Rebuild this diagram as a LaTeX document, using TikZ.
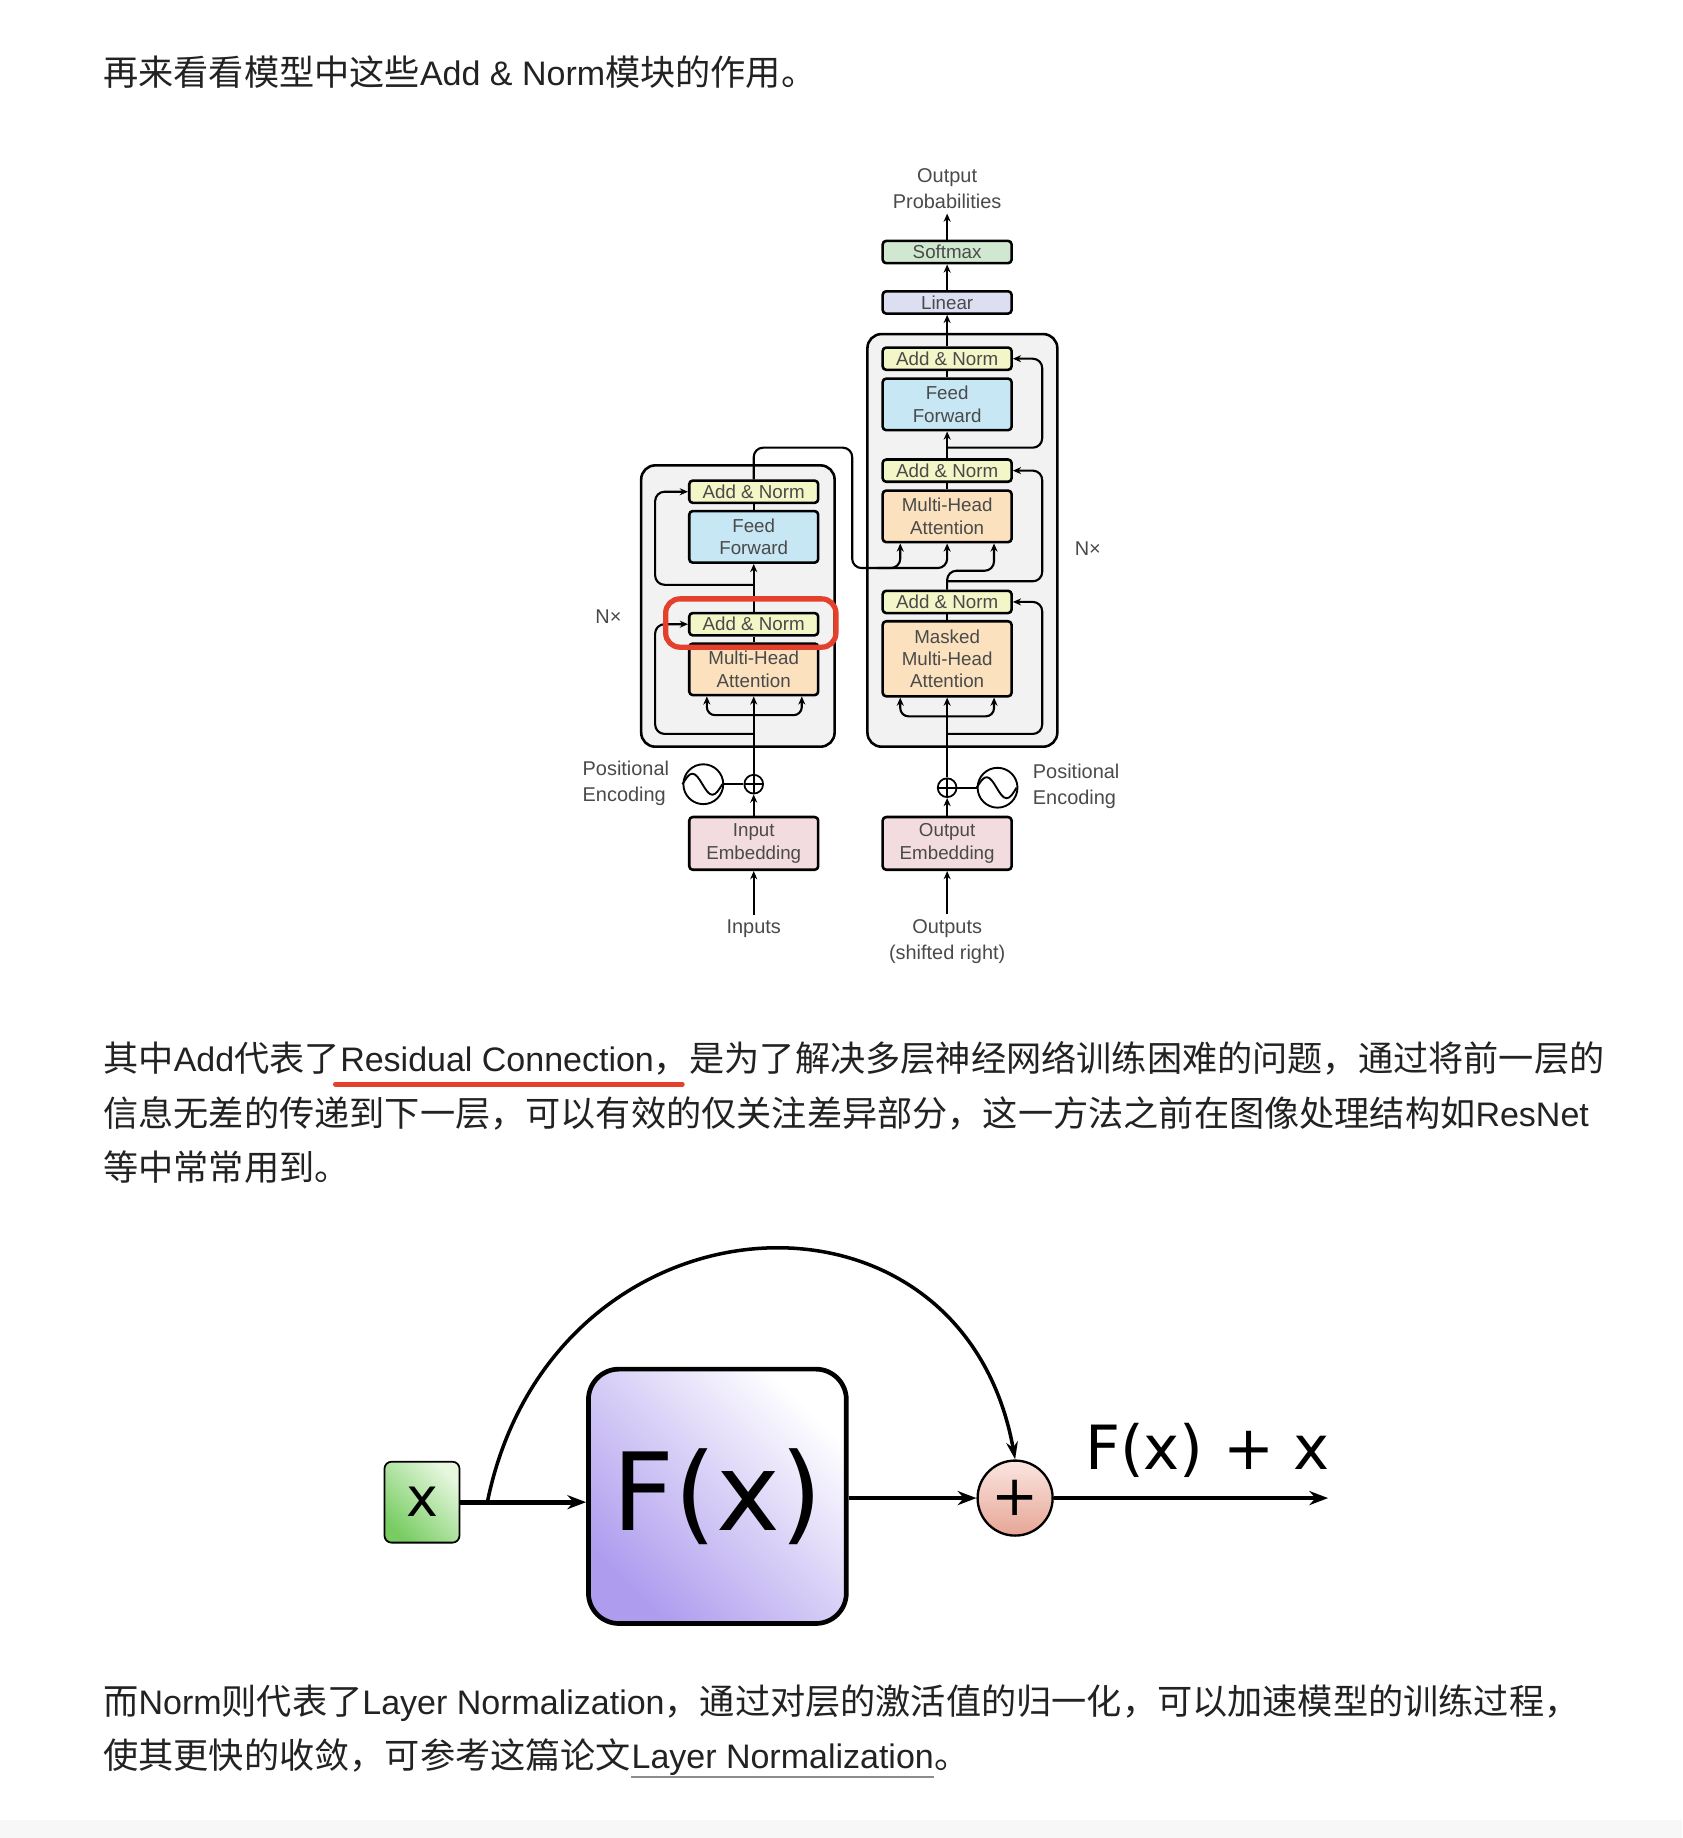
\documentclass[tikz,border=0pt]{standalone}
\usepackage{fontspec}
\setmainfont{Liberation Sans}
\newfontfamily\cjkfont[Scale=1.035]{Noto Sans CJK SC}
\newfontfamily\diagfont{Liberation Sans}
\newfontfamily\resfont{DejaVu Sans}
\usetikzlibrary{positioning,calc,arrows.meta}

\XeTeXinterchartokenstate=1
\newXeTeXintercharclass\cjkcls
\newcount\cjkcnt
\cjkcnt="3000
\loop \XeTeXcharclass\cjkcnt=\cjkcls \ifnum\cjkcnt<"303F \advance\cjkcnt by 1 \repeat
\cjkcnt="4E00
\loop \XeTeXcharclass\cjkcnt=\cjkcls \ifnum\cjkcnt<"9FFF \advance\cjkcnt by 1 \repeat
\cjkcnt="FF00
\loop \XeTeXcharclass\cjkcnt=\cjkcls \ifnum\cjkcnt<"FFEF \advance\cjkcnt by 1 \repeat
\XeTeXinterchartoks 0 \cjkcls = {\cjkfont}
\XeTeXinterchartoks 4095 \cjkcls = {\cjkfont}
\XeTeXinterchartoks \cjkcls 0 = {\rmfamily}

\definecolor{addnorm}{HTML}{F3F6C6}
\definecolor{ffwd}{HTML}{C7E7F5}
\definecolor{attn}{HTML}{FBE1BE}
\definecolor{embd}{HTML}{F3DCDF}
\definecolor{linc}{HTML}{DCDEF2}
\definecolor{smaxc}{HTML}{CFE8CF}
\definecolor{stackbg}{HTML}{F2F2F2}
\definecolor{hilite}{HTML}{E5402C}
\definecolor{txt}{HTML}{222222}
\definecolor{dtxt}{HTML}{4A4A4A}
\definecolor{xdark}{HTML}{78CC62}
\definecolor{xlight}{HTML}{E6F7DE}
\definecolor{fdark}{HTML}{AE9CEE}
\definecolor{sumtop}{HTML}{FBE6E0}
\definecolor{sumbot}{HTML}{E6A595}

\begin{document}
\begin{tikzpicture}
		[x=1pt, y=-1pt, line join=round,
		every node/.style={inner sep=0pt, text=dtxt, font=\diagfont\fontsize{16}{19}\selectfont},
		layer/.style={draw, line width=2.2pt, rounded corners=3pt, minimum width=110pt, align=center},
		an/.style={layer, fill=addnorm, minimum height=19pt},
		ff/.style={layer, fill=ffwd, minimum height=44pt},
		att/.style={layer, fill=attn, minimum height=44pt},
		emb/.style={layer, fill=embd, minimum height=45pt},
		lbl/.style={align=center, inner sep=4pt, font=\diagfont\fontsize{17}{22}\selectfont},
		flow/.style={line width=1.8pt, -{Stealth[length=7pt,width=6pt]}},
		fork/.style={line width=1.8pt, {Stealth[length=7pt,width=6pt]}-{Stealth[length=7pt,width=6pt]}},
		link/.style={line width=1.8pt},
		stack/.style={draw, fill=stackbg, line width=2.2pt, rounded corners=12pt},
		addop/.style={circle, draw, line width=1.5pt, minimum size=16pt,
			path picture={\draw[line width=1.5pt] (path picture bounding box.north) -- (path picture bounding box.south) (path picture bounding box.west) -- (path picture bounding box.east);}},
		wave/.style={circle, draw, line width=1.6pt, minimum size=34pt},
		para/.style={anchor=base west, text=txt, font=\rmfamily\fontsize{29}{29}\selectfont},
		xinbox/.style={draw, line width=1.5pt, rounded corners=6pt, minimum width=64pt, minimum height=69pt,
			bottom color=xdark, top color=xlight, shading angle=-45, text=black, font=\resfont\fontsize{46}{46}\selectfont},
		fxbox/.style={draw, line width=4pt, rounded corners=26pt, minimum width=220pt, minimum height=217pt,
			bottom color=fdark, top color=white, shading angle=-45, text=black, font=\resfont\fontsize{92}{92}\selectfont},
		sumop/.style={circle, draw, line width=2pt, minimum size=64pt, top color=sumtop, bottom color=sumbot,
			text=black, font=\resfont\fontsize{48}{48}\selectfont},
		resarrow/.style={line width=4pt, -{Stealth[length=16pt,width=12pt]}},
		skiparc/.style={line width=3pt, -{Stealth[length=15pt,width=10pt]}}]
		\fill[white] (0,0) rectangle (1435,1568);
		\useasboundingbox (0,0) rectangle (1435,1568);
		\fill[black!3] (0,1553) rectangle (1435,1568);

		\node[para] (t1) at (88,73) {再来看看模型中这些Add \& Norm模块的作用。};

		\draw[stack] (547,397) rectangle (712,637);
		\draw[stack] (740,285) rectangle (902,637);

		\node[emb] (emb1) at (643,719.5) {Input\\Embedding};
		\node[addop] (p1) at (643,669) {};
		\node[wave] (s1) at (600,669) {};
		\node[lbl, anchor=east, align=left] (pe1) at (575,668) {Positional\\Encoding};
		\node[lbl] (in) at (643,792) {Inputs};
		\node[att] (mha1) at (643,571) {Multi-Head\\Attention};
		\node[an] (an1) at (643,532.5) {Add \& Norm};
		\node[ff] (ff1) at (643,458) {Feed\\Forward};
		\node[an] (an2) at (643,419.5) {Add \& Norm};
		\node[lbl] (n1) at (519,526) {N×};

		\node[emb] (emb2) at (808,719.5) {Output\\Embedding};
		\node[addop] (p2) at (808,672) {};
		\node[wave] (s2) at (851,672) {};
		\node[lbl, anchor=west, align=left] (pe2) at (877,671) {Positional\\Encoding};
		\node[lbl] (out) at (808,803) {Outputs\\(shifted right)};
		\node[att, minimum height=64pt] (mmha) at (808,562) {Masked\\Multi-Head\\Attention};
		\node[an] (an3) at (808,513.5) {Add \& Norm};
		\node[att] (mha2) at (808,440.5) {Multi-Head\\Attention};
		\node[an] (an4) at (808,401.5) {Add \& Norm};
		\node[ff] (ff2) at (808,345) {Feed\\Forward};
		\node[an] (an5) at (808,306) {Add \& Norm};
		\node[an, fill=linc] (lin) at (808,258) {Linear};
		\node[an, fill=smaxc] (soft) at (808,215) {Softmax};
		\node[lbl] (prob) at (808,161) {Output\\Probabilities};
		\node[lbl] (n2) at (928,468) {N×};

		\draw[flow] (in) -- (emb1);
		\draw[flow] (emb1) -- (p1);
		\draw[flow] (p1) -- (mha1);
		\draw[link] (s1.east) -- (p1.west);
		\draw[line width=1.6pt] (s1.west) sin ++(8.5,-9) cos ++(8.5,9) sin ++(8.5,9) cos ++(8.5,-9);
		\draw[fork, rounded corners=7] ($(mha1.south)+(-40,0)$) |- ($(mha1.south)+(41,16)$) -- ($(mha1.south)+(41,0)$);
		\draw[flow, rounded corners=8] ($(mha1.south)+(0,32)$) -| ($(an1.west)+(-28,0)$) -- (an1.west);
		\draw[link] (mha1) -- (an1);
		\draw[flow] (an1) -- (ff1);
		\draw[flow, rounded corners=8] ($(an1.north)+(0,-23)$) -| ($(an2.west)+(-28,0)$) -- (an2.west);
		\draw[link] (ff1) -- (an2);
		\draw[flow, rounded corners=8] (an2.north) |- ($(an2.north)+(84,-27)$) |- ($(mha2.south)+(-40,21)$) -- ($(mha2.south)+(-40,0)$);
		\draw[flow, rounded corners=8] ($(mha2.south)+(-60,21)$) -| (mha2.south);

		\draw[flow] (out) -- (emb2);
		\draw[flow] (emb2) -- (p2);
		\draw[flow] (p2) -- (mmha);
		\draw[link] (p2.east) -- (s2.west);
		\draw[line width=1.6pt] (s2.west) sin ++(8.5,-9) cos ++(8.5,9) sin ++(8.5,9) cos ++(8.5,-9);
		\draw[fork, rounded corners=7] ($(mmha.south)+(-40,0)$) |- ($(mmha.south)+(40,16)$) -- ($(mmha.south)+(40,0)$);
		\draw[flow, rounded corners=8] ($(mmha.south)+(0,31)$) -| ($(an3.east)+(25,0)$) -- (an3.east);
		\draw[link] (mmha) -- (an3);
		\draw[flow, rounded corners=8] (an3.north) -- ++(0,-16) -| ($(mha2.south)+(40,0)$);
		\draw[flow, rounded corners=8] ($(an3.north)+(0,-7)$) -| ($(an4.east)+(25,0)$) -- (an4.east);
		\draw[link] (mha2) -- (an4);
		\draw[flow] (an4) -- (ff2);
		\draw[flow, rounded corners=8] ($(an4.north)+(0,-9)$) -| ($(an5.east)+(25,0)$) -- (an5.east);
		\draw[link] (ff2) -- (an5);
		\draw[flow] (an5) -- (lin);
		\draw[flow] (lin) -- (soft);
		\draw[flow] (soft) -- (prob);

		\draw[hilite, line width=4.5pt, rounded corners=12pt] ($(an1.north west)+(-19,-11)$) rectangle ($(an1.south east)+(14,9)$);

		\node[para] (p2a) at (88,914) {其中Add代表了};
		\node[para] (p2b) at (p2a.base east) {Residual Connection，};
		\node[para] (p2c) at (p2b.base east) {是为了解决多层神经网络训练困难的问题，通过将前一层的};
		\node[para] (p2d) at (88,961) {信息无差的传递到下一层，可以有效的仅关注差异部分，这一方法之前在图像处理结构如ResNet};
		\node[para] (p2e) at (88,1007) {等中常常用到。};
		\draw[hilite, line width=4pt, line cap=round] ($(p2b.base west)+(-4,11)$) -- ($(p2b.base east)+(-6,11)$);

		\node[xinbox] (x) at (360,1281.5) {x};
		\node[fxbox] (fx) at (612,1276.5) {F(x)};
		\node[sumop] (sum) at (866,1278) {+};
		\coordinate (res) at (1133,1278);
		\node[text=black, font=\resfont\fontsize{52}{52}\selectfont] (fxx) at (1030,1237) {F(x) + x};
		\draw[resarrow] (x.east) -- (x.east -| fx.west);
		\draw[resarrow] (fx.east |- sum) -- (sum.west);
		\draw[resarrow] (sum.east) -- (res);
		\draw[skiparc] ($(x.east)+(23,0)$) .. controls +(55,-270) and +(-46,-255) .. (sum.north);

		\node[para] (p3a) at (88,1463) {而Norm则代表了Layer Normalization，通过对层的激活值的归一化，可以加速模型的训练过程，};
		\node[para] (p3b) at (88,1509) {使其更快的收敛，可参考这篇论文};
		\node[para] (p3c) at (p3b.base east) {Layer Normalization};
		\node[para] (p3d) at (p3c.base east) {。};
		\draw[black!45, line width=1.5pt] ($(p3c.base west)+(0,7)$) -- ($(p3c.base east)+(0,7)$);
	\end{tikzpicture}
\end{document}
